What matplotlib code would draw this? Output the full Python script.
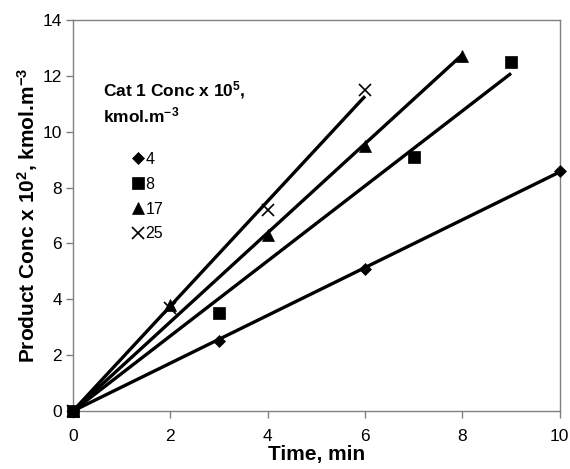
import numpy as np
import matplotlib
matplotlib.use("Agg")
import matplotlib.pyplot as plt
from matplotlib.lines import Line2D

plt.rcParams['font.family'] = ['Liberation Sans', 'DejaVu Sans']
plt.rcParams['mathtext.fontset'] = 'custom'
plt.rcParams['mathtext.rm'] = 'Liberation Sans:bold'
plt.rcParams['mathtext.default'] = 'rm'

# Data
series_labels = ['4', '8', '17', '25']
time_4 = [0, 3, 6, 10]
conc_4 = [0, 2.5, 5.1, 8.6]
time_8 = [0, 3, 7, 9]
conc_8 = [0, 3.5, 9.1, 12.5]
time_17 = [0, 2, 4, 6, 8]
conc_17 = [0, 3.8, 6.3, 9.5, 12.7]
time_25 = [0, 2, 4, 6]
conc_25 = [0, 3.7, 7.2, 11.5]

x_ticks = [0, 2, 4, 6, 8, 10]
y_ticks = [0, 2, 4, 6, 8, 10, 12, 14]

series = [(time_4, conc_4, 'D', 6.5), (time_8, conc_8, 's', 8),
          (time_17, conc_17, '^', 9), (time_25, conc_25, 'x', 8)]

fig = plt.figure(figsize=(5.7, 4.69), dpi=100)
ax = fig.add_axes([0.128, 0.1237, 0.854, 0.8337])

handles = []
for (t, c, m, ms), lab in zip(series, series_labels):
    t = np.array(t, float); c = np.array(c, float)
    slope = np.sum(t * c) / np.sum(t * t)
    xs = np.array([0, t.max()])
    ax.plot(xs, slope * xs, color='black', lw=2.4, solid_capstyle='butt', zorder=2)
    mew = 1.2 if m == 'x' else 0.5
    ax.plot(t, c, linestyle='none', marker=m, ms=ms, color='black',
            mew=mew, zorder=3, clip_on=False)
    handles.append(Line2D([], [], linestyle='none', marker=m, ms=ms, color='black',
                          mew=mew, label=lab))

ax.set_xlim(0, 10)
ax.set_ylim(0, 14)
ax.set_xticks(x_ticks)
ax.set_yticks(y_ticks)
ax.tick_params(direction='out', length=5, width=1, color='#808080', labelsize=12.5)
ax.tick_params(axis='y', pad=3)
ax.tick_params(axis='x', pad=8)
for s in ax.spines.values():
    s.set_color('#808080')
    s.set_linewidth(1)

ax.set_xlabel('Time, min', fontsize=15, fontweight='bold', labelpad=1)
ax.set_ylabel('Product Conc x 10$^2$, kmol.m$^{-3}$', fontsize=15, fontweight='bold', labelpad=2)

ax.text(0.0616, 0.821, 'Cat 1 Conc x 10$^5$,', transform=ax.transAxes, fontsize=12.5,
        fontweight='bold', va='center', ha='left')
ax.text(0.0616, 0.757, 'kmol.m$^{-3}$', transform=ax.transAxes, fontsize=12.5,
        fontweight='bold', va='center', ha='left')

leg = ax.legend(handles=handles, loc='upper left', bbox_to_anchor=(0.123, 0.663),
                frameon=False, fontsize=11.5, handlelength=0.6, handletextpad=0.2,
                labelspacing=0.62, borderpad=0, borderaxespad=0)

fig.savefig('out.png', dpi=100)
